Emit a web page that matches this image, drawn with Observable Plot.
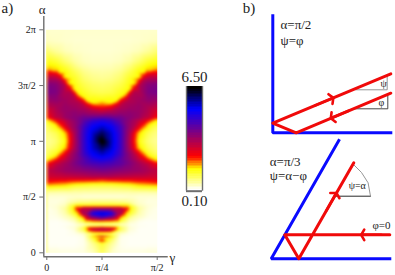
<!DOCTYPE html>
<html>
<head>
<meta charset="utf-8">
<script src="https://cdn.jsdelivr.net/npm/d3@7"></script>
<script src="https://cdn.jsdelivr.net/npm/@observablehq/plot@0.6"></script>
<style>
html,body{margin:0;padding:0;background:#fff}
#c{position:relative;width:395px;height:275px;overflow:hidden}
#c svg{position:absolute;overflow:visible}
</style>
</head>
<body>
<div id="c"></div>
<script>
// gamma columns, in units of pi (left half; the map is mirrored about pi/4)
const gammaHalf = [0, 1/24, 2/24, 3/24, 4/24, 5/24, 6/24];
// alpha rows, in units of pi
const alphaRows = [2.00,1.90,1.81,1.72,1.65,1.62,1.56,1.51,1.44,1.37,1.31,1.26,1.21,1.19,1.13,1.07,1.00,
  0.94,0.88,0.83,0.80,0.74,0.68,0.65,0.62,0.59,0.54,0.50,0.45,0.42,0.40,0.35,0.31,0.28,0.25,0.24,0.21,
  0.18,0.16,0.15,0.13,0.11,0.09,0.07,0.00];
const heat = [
 [.35,.35,.35,.35,.35,.35,.35],
 [.42,.38,.35,.33,.33,.33,.33],
 [.8,.6,.45,.38,.35,.33,.33],
 [1.25,1.1,.8,.55,.42,.38,.38],
 [1.6,1.5,1.2,.85,.6,.5,.48],
 [2.15,2.1,1.35,1.0,.7,.58,.55],
 [3.1,3.0,1.9,1.2,.85,.7,.65],
 [3.6,3.5,2.6,1.3,1.0,.85,.8],
 [3.7,3.6,3.0,2.15,1.2,1.0,.95],
 [3.3,3.4,3.2,3.0,2.15,1.35,1.3],
 [2.9,3.1,3.3,3.2,3.0,2.15,2.1],
 [2.5,3.0,3.3,3.4,3.3,3.1,3.0],
 [2.2,2.9,3.3,3.5,3.8,3.9,4.0],
 [1.4,2.3,2.9,3.4,3.9,4.4,4.6],
 [.9,1.35,2.4,3.3,4.3,5.0,5.3],
 [.7,.95,1.5,3.1,4.4,5.3,5.9],
 [.6,.8,1.3,3.0,4.4,5.4,6.5],
 [.7,.95,1.5,3.1,4.4,5.3,5.9],
 [.9,1.3,2.4,3.4,4.3,5.0,5.3],
 [1.4,2.2,2.9,3.5,4.0,4.5,4.7],
 [2.2,2.8,3.2,3.6,4.0,4.2,4.3],
 [2.9,3.1,3.3,3.4,3.5,3.6,3.7],
 [2.7,2.75,2.8,2.85,2.9,3.0,3.0],
 [2.4,2.3,2.3,2.2,2.2,2.15,2.0],
 [1.9,1.8,1.7,1.5,1.4,1.3,1.3],
 [1.3,1.25,1.2,1.0,.95,.9,.9],
 [.5,.5,.5,.5,.5,.5,.5],
 [.3,.3,.3,.35,.3,.3,.3],
 [.25,.25,.35,.6,.75,.8,.8],
 [.25,.3,.45,1.25,1.4,1.4,1.4],
 [.2,.3,.6,1.7,2.9,3.0,3.0],
 [.2,.25,.5,1.2,3.6,4.9,5.4],
 [.2,.2,.35,.6,1.5,3.2,3.9],
 [.15,.15,.2,.4,1.0,1.6,1.7],
 [.15,.15,.15,.2,.3,.35,.35],
 [.15,.15,.2,.3,.8,1.2,1.3],
 [.15,.15,.15,.3,1.0,3.0,3.3],
 [.15,.15,.15,.2,.5,1.3,1.4],
 [.15,.15,.15,.2,.3,.7,.9],
 [.15,.15,.15,.15,.25,1.6,2.8],
 [.15,.15,.15,.15,.2,1.0,1.4],
 [.15,.15,.15,.15,.2,.9,2.4],
 [.15,.15,.15,.15,.2,.7,1.3],
 [.15,.15,.15,.15,.2,.6,1.1],
 [.3,.3,.25,.25,.25,.4,.9]
];
// extra readings along the colour boundaries: [gamma/pi, alpha/pi, value]
const redEdge = [[.017,1.622],[.039,1.613],[.062,1.590],[.082,1.545],[.103,1.491],[.125,1.438],[.146,1.393],[.166,1.366],[.184,1.339],[.207,1.321],
  [.085,1.106],[.085,.909],[.062,1.151],[.062,.864],[.135,.397],[.153,.352],[.180,.299]];
const yellowEdge = [[.039,1.640],[.062,1.617],[.082,1.572],[.103,1.518],[.125,1.465],[.146,1.420],[.166,1.393],[.184,1.361],[.207,1.343],
  [.069,1.088],[.069,.926],[.039,1.147],[.039,.867],[.121,.406],[.137,.352],[.166,.299]];
const purpleEdge = [[.039,1.568],[.062,1.545],[.082,1.500],[.103,1.447],[.125,1.393],[.146,1.348],[.166,1.321],[.184,1.294],[.207,1.276],
  [.105,1.128],[.105,.886],[.060,1.217],[.060,.797],[.157,.379],[.171,.352],[.198,.308]];
const redValue = 2.15, yellowValue = 1.38, purpleValue = 3.0;
// colour map
const colorStops = [0.1,1.38,2.148,5.03,6.31,6.5];
const colorRange = ["#ffffff","#ffff00","#ff0000","#0000ff","#000000","#000000"];
const barLevels = [0.1,0.2,0.3,0.4,0.5,0.6,0.7,0.8,0.9,1,1.1,1.2,1.3,1.4,1.5,1.6,1.7,1.8,1.9,2,2.1,2.2,2.3,2.4,2.5,2.6,2.7,2.8,2.9,3,3.1,3.2,3.3,3.4,3.5,3.6,3.7,3.8,3.9,4,4.1,4.2,4.3,4.4,4.5,4.6,4.7,4.8,4.9,5,5.1,5.2,5.3,5.4,5.5,5.6,5.7,5.8,5.9,6,6.1,6.2,6.3,6.4];
// axis ticks
const alphaTicks = [0,0.5,1,1.5,2];
const alphaLabels = ["0","π/2","π","3π/2","2π"];
const gammaTicks = [0,0.25,0.5];
const gammaLabels = ["0","π/4","π/2"];
// diagram a: alpha = pi/2
const wallsA = [[0,117],[0,0],[118,0]];
const rayA = [[118,59],[0,9.6],[23.4,0],[118,39.6]];
const arrowsA = [[42,27.2,60.5,34.9],[76,22,58,14.5]];
const guidesA1 = [[83,43],[114.4,43],[114.4,57]];
const guidesA2 = [[79.4,24],[115,24],[115,38]];
const labelsA = [[7.7,108,"α=π/2",13],[7.7,92,"ψ=φ",13]];
const anglesA = [[110.7,49,"ψ",10],[108.7,29.6,"φ",10]];
// diagram b: alpha = pi/3
const wallsB = [[67.6,118.3],[0,0],[118.6,0]];
const rayB = [[82.6,96],[27.6,0],[13.6,24],[118.6,24]];
const arrowsB = [[55,48,65.2,65.8],[110,24,90,24]];
const guidesB1 = [[63.3,62.6],[99.3,62.6]];
const arcB = [[99.3,62.6],[96.9,76],[90.3,86.3],[82.6,94]];
const labelsB = [[-1.4,97,"α=π/3",13],[-1.4,82.6,"ψ=α−φ",13],[101.3,33,"φ=0",11]];
const anglesB = [[86,73.3,"ψ=α",10]];

const serif = "'Liberation Serif','Times New Roman',serif";
const colorScale = {type:"linear",domain:colorStops,range:colorRange,interpolate:"rgb",clamp:true};

const cells = [];
heat.forEach((row,i)=>{
  row.forEach((v,j)=>{
    cells.push({g:gammaHalf[j],a:alphaRows[i],v});
    if(j<row.length-1) cells.push({g:0.5-gammaHalf[j],a:alphaRows[i],v});
  });
});
[[redEdge,redValue],[yellowEdge,yellowValue],[purpleEdge,purpleValue]].forEach(([pts,v])=>{
  pts.forEach(([g,a])=>{
    cells.push({g,a,v});
    cells.push({g:0.5-g,a,v});
  });
});

const host = document.getElementById("c");
function place(svg,left,top){svg.style.left=left+"px";svg.style.top=top+"px";host.appendChild(svg);}

const axisColor="#6e6e6e";
const left = Plot.plot({
  width:185,height:275,marginLeft:46.3,marginRight:28.3,marginTop:29.3,marginBottom:22.7,
  style:{background:"transparent",fontFamily:serif,fontSize:"10px",color:"#222"},
  x:{domain:[0,0.5],axis:null},
  y:{domain:[0,2],axis:null},
  color:colorScale,
  marks:[
    Plot.raster(cells,{x:"g",y:"a",fill:"v",interpolate:"barycentric",blur:0.7,x1:-0.003,x2:0.5,y1:0,y2:2,pixelSize:1}),
    Plot.ruleX([-0.0136],{y1:-0.036,y2:2.12,stroke:axisColor,strokeWidth:1.4}),
    Plot.ruleY([-0.036],{x1:-0.0136,x2:0.55,stroke:axisColor,strokeWidth:1.4}),
    Plot.axisY(alphaTicks,{anchor:"left",dx:-3,tickSize:4,tickPadding:4,stroke:axisColor,fill:"#222",label:null,
      tickFormat:d=>alphaLabels[alphaTicks.indexOf(d)],fontSize:10}),
    Plot.axisX(gammaTicks,{anchor:"bottom",dy:3.7,tickSize:4,tickPadding:3,stroke:axisColor,fill:"#222",label:null,
      tickFormat:d=>gammaLabels[gammaTicks.indexOf(d)],fontSize:10}),
    Plot.text(["α"],{x:-0.021,y:2.18,text:d=>d,fontSize:13,fill:"#222"}),
    Plot.text(["γ"],{x:0.569,y:-0.042,text:d=>d,fontSize:13,fill:"#222"}),
    Plot.text(["a)"],{x:-0.205,y:2.19,text:d=>d,fontSize:15,textAnchor:"start",fill:"#222"})
  ]
});
place(left,0,0);

const bar = Plot.plot({
  width:16,height:104.7,margin:0,
  style:{background:"transparent",fontFamily:serif,color:"#222"},
  x:{domain:[0,1],axis:null},
  y:{domain:[0.1,6.5],axis:null},
  color:colorScale,
  marks:[
    Plot.rect(barLevels,{x1:0,x2:1,y1:d=>d,y2:d=>d+0.1,fill:d=>d,shapeRendering:"crispEdges"}),
    Plot.ruleX([0,1],{stroke:axisColor,strokeWidth:1.4}),
    Plot.ruleY([0.1],{stroke:axisColor,strokeWidth:2}),
    Plot.text(["6.50"],{x:0.5,y:6.5,text:d=>d,dy:-9,fontSize:15,fill:"#222"}),
    Plot.text(["0.10"],{x:0.5,y:0.1,text:d=>d,dy:10.5,fontSize:15,fill:"#222"})
  ]
});
place(bar,186.3,86);

function diagram(walls,ray,arrows,guides,labels,angles,xDomain,yDomain,heading){
  const marks=[
    Plot.line(walls,{x:d=>d[0],y:d=>d[1],stroke:"#0a0aff",strokeWidth:3,strokeLinejoin:"miter",strokeLinecap:"square"})
  ];
  guides.forEach(g=>marks.push(Plot.line(g.pts,{x:d=>d[0],y:d=>d[1],stroke:g.color,strokeWidth:0.9})));
  marks.push(
    Plot.line(ray,{x:d=>d[0],y:d=>d[1],stroke:"#f00a0a",strokeWidth:3,strokeLinejoin:"round"}),
    Plot.arrow(arrows,{x1:d=>d[0],y1:d=>d[1],x2:d=>d[2],y2:d=>d[3],stroke:"#f00a0a",strokeWidth:2.6,headLength:3.5,headAngle:120,bend:0}),
    Plot.text(labels,{x:d=>d[0],y:d=>d[1],text:d=>d[2],fontSize:d=>d[3],textAnchor:"start",fill:"#222"}),
    Plot.text(angles,{x:d=>d[0],y:d=>d[1],text:d=>d[2],fontSize:d=>d[3],textAnchor:"middle",fill:"#222"})
  );
  if(heading) marks.push(Plot.text([heading[2]],{x:heading[0],y:heading[1],text:d=>d,fontSize:15,textAnchor:"start",fill:"#222"}));
  return Plot.plot({
    width:165,height:140,margin:0,
    style:{background:"transparent",fontFamily:serif,color:"#222"},
    x:{domain:xDomain,axis:null},
    y:{domain:yDomain,axis:null},
    marks
  });
}
place(diagram(wallsA,rayA,arrowsA,[{pts:guidesA1,color:"#8a8a8a"},{pts:guidesA2,color:"#333"}],labelsA,anglesA,[-42.3,122.7],[-7.7,132.3],[-30,124.3,"b)"]),230,0);
place(diagram(wallsB,rayB,arrowsB,[{pts:guidesB1,color:"#111"},{pts:arcB,color:"#8a8a8a"}],labelsB,anglesB,[-40.7,124.3],[-16.7,123.3],null),230,135);
</script>
</body>
</html>
